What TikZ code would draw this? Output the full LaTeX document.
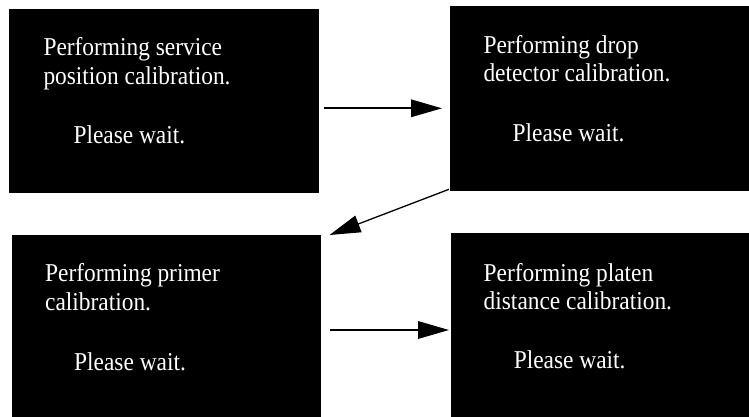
\documentclass[tikz,border=0pt]{standalone}
\usepackage{fontspec}
\setmainfont[FakeStretch=0.91]{Liberation Serif}
\usetikzlibrary{arrows.meta}
\tikzset{
  screen/.style={fill=black, draw=none, inner sep=0pt, anchor=north west},
  msg/.style={text=white, anchor=base west, inner sep=0pt, font=\fontsize{25.7}{29}\selectfont},
  arr/.style={line width=1.7pt, -{Triangle[length=31pt,width=17.5pt]}},
  darr/.style={line width=1.3pt, -{Triangle[length=31pt,width=17.5pt]}}
}
\begin{document}
\begin{tikzpicture}[x=1pt,y=-1pt]
\useasboundingbox (0,0) rectangle (749,417);
\fill[white] (0,0) rectangle (749,417);
% boxes
\node[screen, minimum width=310pt, minimum height=183.5pt] (b1) at (9,9) {};
\node[screen, minimum width=299.5pt, minimum height=184.5pt] (b2) at (449.5,6) {};
\node[screen, minimum width=309pt, minimum height=182pt] (b3) at (12,235) {};
\node[screen, minimum width=298pt, minimum height=184pt] (b4) at (451,233) {};
% texts
\node[msg] (t1a) at (43.3,56) {Performing service};
\node[msg] (t1b) at (43.3,84.5) {position calibration.};
\node[msg] (t1c) at (73.3,143.3) {Please wait.};
\node[msg] (t2a) at (483.3,54) {Performing drop};
\node[msg] (t2b) at (483.3,81.7) {detector calibration.};
\node[msg] (t2c) at (512.5,141.7) {Please wait.};
\node[msg] (t3a) at (45,281.7) {Performing primer};
\node[msg] (t3b) at (45,310) {calibration.};
\node[msg] (t3c) at (74,370) {Please wait.};
\node[msg] (t4a) at (483.5,281.5) {Performing platen};
\node[msg] (t4b) at (483.5,309) {distance calibration.};
\node[msg] (t4c) at (513.6,368.3) {Please wait.};
% connector end points
\coordinate (a1s) at (324,108.3);
\coordinate (a1e) at (442,108.3);
\coordinate (a2s) at (449,189.3);
\coordinate (a2e) at (329.5,235);
\coordinate (a3s) at (330,330);
\coordinate (a3e) at (449,330);
\draw[arr] (a1s) -- (a1e);
\draw[darr] (a2s) -- (a2e);
\draw[arr] (a3s) -- (a3e);
\end{tikzpicture}
\end{document}
